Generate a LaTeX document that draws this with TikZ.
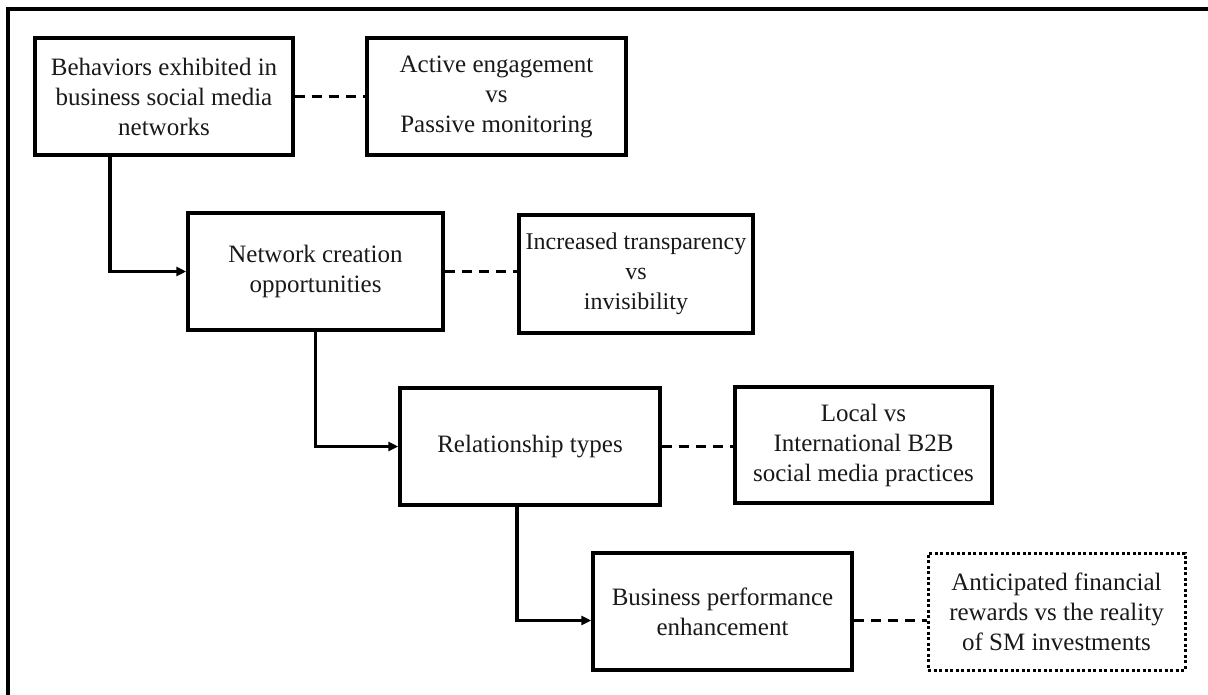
\documentclass[tikz,border=0pt]{standalone}
\usepackage{fontspec}
\setmainfont{Liberation Serif}
\usepackage{xcolor}
\definecolor{inkgray}{RGB}{25,25,25}
\usepackage{tikz}
\usetikzlibrary{positioning}
\usetikzlibrary{arrows.meta}

\begin{document}
\begin{tikzpicture}[x=1pt,y=-1pt,
  box/.style={draw=black,line width=3.5pt,align=center,text=inkgray,
    font=\fontsize{25}{30}\selectfont,inner sep=3pt},
  dotbox/.style={box,line width=3pt,dash pattern=on 3pt off 2.5pt},
  link/.style={draw=black,line width=3.5pt,dash pattern=on 10pt off 7pt},
  arr/.style={draw=black,line width=3.5pt,-{Triangle[length=10pt,width=9pt]}}]
\useasboundingbox (0,0) rectangle (1208,695);
% frame
\draw[line width=4pt] (8,695) -- (8,9.5) -- (1208,9.5);
% main chain
\node (beh) at (164,96.5) [box,minimum width=258pt,minimum height=117pt]
  {Behaviors exhibited in\\business social media\\networks};
\node (net) at (315.5,271.5) [box,minimum width=255pt,minimum height=117pt]
  {Network creation\\opportunities};
\node (rel) at (530,446.5) [box,minimum width=260pt,minimum height=117pt]
  {Relationship types};
\node (bus) at (722.5,611.5) [box,minimum width=259pt,minimum height=117pt]
  {Business performance\\enhancement};
% tensions
\node (act) at (496.5,96.5) [box,minimum width=259pt,minimum height=117pt]
  {Active engagement\\vs\\Passive monitoring};
\node (tra) at (636,274) [box,minimum width=234pt,minimum height=118pt,
  font=\fontsize{24}{30}\selectfont]
  {Increased transparency\\vs\\invisibility};
\node (loc) at (863.5,445) [box,minimum width=257pt,minimum height=116pt]
  {Local vs\\International B2B\\social media practices};
\node (ant) at (1056.5,611.5) [dotbox,minimum width=257pt,minimum height=117pt]
  {Anticipated financial\\rewards vs the reality\\of SM investments};
\coordinate (busin) at ([yshift=-9pt]bus.west);
\coordinate (busout) at ([yshift=-9pt]bus.east);
% connectors
\draw[arr] ([xshift=-54pt]beh.south) |- (net.west);
\draw[arr] (net.south) |- (rel.west);
\draw[arr] ([xshift=-13pt]rel.south) |- (busin);
\draw[link] (beh.east) -- (act.west);
\draw[link] (net.east) -- (net.east -| tra.west);
\draw[link] (rel.east) -- (rel.east -| loc.west);
\draw[link] (busout) -- (busout -| ant.west);
\end{tikzpicture}
\end{document}
